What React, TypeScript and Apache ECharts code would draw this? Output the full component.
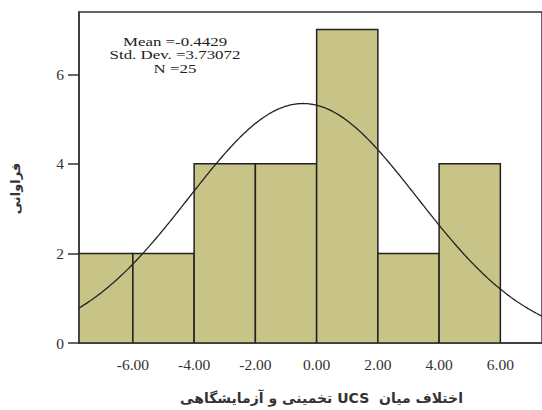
import React, { useEffect, useRef } from "react";
import * as echarts from "echarts";

const binStarts = [-8, -6, -4, -2, 0, 2, 4];
const binWidth = 2;
const counts = [2, 2, 4, 4, 7, 2, 4];
const xTicks = [-6, -4, -2, 0, 2, 4, 6];
const yTicks = [0, 2, 4, 6];
const statLines = ["Mean =-0.4429", "Std. Dev. =3.73072", "N =25"];
const mean = -0.4429;
const stdDev = 3.73072;
const n = 25;
const xMin = -7.76;
const xMax = 7.36;
const yMax = 7.39;
const xTitle = "اختلاف میان  UCS تخمینی و آزمایشگاهی";
const yTitle = "فراوانی";

export default function App() {
  const ref = useRef<HTMLDivElement>(null);
  useEffect(() => {
    if (!ref.current) return;
    const chart = echarts.init(ref.current, null, { renderer: "svg" });
    const hist = binStarts.map((s, i) => [s, s + binWidth, counts[i]]);
    const curve: number[][] = [];
    const steps = 300;
    for (let i = 0; i <= steps; i++) {
      const x = xMin + ((xMax - xMin) * i) / steps;
      const z = (x - mean) / stdDev;
      const y = (n * binWidth * Math.exp(-0.5 * z * z)) / (stdDev * Math.sqrt(2 * Math.PI));
      curve.push([x, y]);
    }
    chart.setOption({
      animation: false,
      grid: {
        left: 79,
        top: 12,
        right: -2,
        bottom: 61,
        show: true,
        borderColor: "#333",
        borderWidth: 1.5,
        containLabel: false,
      },
      xAxis: {
        type: "value",
        min: xMin,
        max: xMax,
        axisLine: { show: true, onZero: false, lineStyle: { color: "#333", width: 1.5 } },
        axisTick: { show: false },
        splitLine: { show: false },
        axisLabel: {
          customValues: xTicks,
          formatter: (v: number) => v.toFixed(2),
          fontFamily: "Liberation Serif",
          fontSize: 15.5,
          color: "#333",
          margin: 13,
        },
        name: "\u202B" + xTitle + "\u202C",
        nameLocation: "middle",
        nameGap: 48,
        nameTextStyle: {
          fontFamily: "DejaVu Sans",
          fontWeight: "bold",
          fontSize: 14,
          color: "#333",
          padding: [0, 0, 0, 22],
        },
      },
      yAxis: {
        type: "value",
        min: 0,
        max: yMax,
        axisLine: { show: true, onZero: false, lineStyle: { color: "#333", width: 1.5 } },
        axisTick: {
          show: true,
          customValues: yTicks,
          length: 11,
          lineStyle: { color: "#333", width: 1.5 },
        },
        splitLine: { show: false },
        axisLabel: {
          customValues: yTicks,
          fontFamily: "Liberation Serif",
          fontSize: 15.5,
          color: "#333",
          margin: 15,
        },
        name: yTitle,
        nameLocation: "middle",
        nameGap: 57,
        nameRotate: 90,
        nameTextStyle: {
          fontFamily: "DejaVu Sans",
          fontWeight: "bold",
          fontSize: 13,
          color: "#333",
          padding: [0, 22, 0, 0],
        },
      },
      graphic: statLines.map((t, i) => ({
        type: "text",
        x: 175,
        y: 41.5 + i * 13.5,
        scaleX: 1.3,
        style: {
          text: t,
          textAlign: "center",
          textVerticalAlign: "middle",
          fontFamily: "Liberation Serif",
          fontSize: 13,
          fill: "#222",
        },
      })),
      series: [
        {
          type: "custom",
          clip: true,
          data: hist,
          renderItem: (params: any, api: any) => {
            const s = Math.max(api.value(0), xMin);
            const e = api.value(1);
            const v = api.value(2);
            const p0 = api.coord([s, v]);
            const p1 = api.coord([e, 0]);
            return {
              type: "rect",
              shape: { x: p0[0], y: p0[1], width: p1[0] - p0[0], height: p1[1] - p0[1] },
              style: { fill: "#c8c386", stroke: "#222", lineWidth: 1.5 },
            };
          },
          z: 2,
        },
        {
          type: "line",
          data: curve,
          showSymbol: false,
          symbol: "none",
          lineStyle: { color: "#222", width: 1.3 },
          z: 3,
        },
      ],
    });
    return () => chart.dispose();
  }, []);
  return <div ref={ref} style={{ width: 542, height: 410, position: "absolute", left: 0, top: 0 }} />;
}
